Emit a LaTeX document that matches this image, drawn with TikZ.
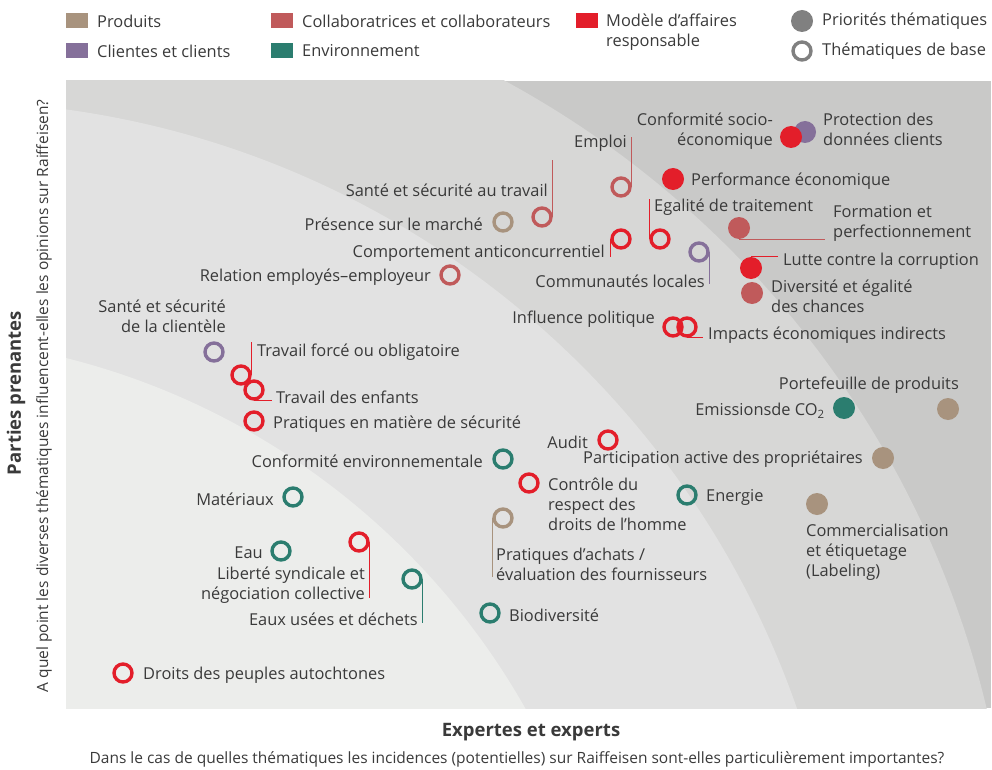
\documentclass[tikz,border=0pt]{standalone}
\usepackage{fontspec}
\setmainfont{Open Sans}
\usepackage{xcolor}
\usepackage{tikz}

\definecolor{prod}{HTML}{A8937E}
\definecolor{client}{HTML}{85709A}
\definecolor{collab}{HTML}{C05A5B}
\definecolor{envi}{HTML}{2B7D6F}
\definecolor{resp}{HTML}{E31E2A}
\definecolor{prio}{HTML}{808080}
\definecolor{txt}{HTML}{3A3A3A}
\definecolor{bandA}{HTML}{ECEDEB}
\definecolor{bandB}{HTML}{E2E2E2}
\definecolor{bandC}{HTML}{D7D7D6}
\definecolor{bandD}{HTML}{C9C9C8}

\begin{document}
\begin{tikzpicture}[x=1pt, y=-1pt,
                baseRing/.style={draw=#1, circle, line width=3.4pt, minimum size=18pt, inner sep=0pt},
                prioDot/.style={fill=#1, circle, minimum size=22pt, inner sep=0pt},
                legKey/.style={fill=#1, minimum width=22pt, minimum height=15pt, inner sep=0pt},
                lbl/.style={text=txt, font=\fontsize{16.4}{20}\selectfont, inner sep=0pt},
                sub/.style={text=txt, font=\fontsize{15.5}{18}\selectfont, inner sep=0pt},
                axis/.style={text=txt, font=\bfseries\fontsize{18.5}{20}\selectfont, inner sep=0pt},
                leader/.style={draw=#1, line width=1.2pt}
            ]
            \useasboundingbox (0,0) rectangle (992,770);

            % Background bands
            \begin{scope}
                \clip (66,81) rectangle (991,708);
                \fill[bandD] (66,81) rectangle (991,708);
                \fill[bandC] (43,934) circle[radius=970];
                \fill[bandB] (-58,1006) circle[radius=905];
                \fill[bandA] (-113,1069) circle[radius=733];
            \end{scope}

            % Legend
            \node[legKey=prod] (kProd) at (77,21) {};
            \node[lbl, anchor=west] (tProd) at (97,21) {Produits};
            \node[legKey=client] (kClient) at (77,51) {};
            \node[lbl, anchor=west] (tClient) at (97,51) {Clientes et clients};
            \node[legKey=collab] (kCollab) at (282,21) {};
            \node[lbl, anchor=west] (tCollab) at (302,21) {Collaboratrices et collaborateurs};
            \node[legKey=envi] (kEnvi) at (282,51) {};
            \node[lbl, anchor=west] (tEnvi) at (302,51) {Environnement};
            \node[legKey=resp] (kResp) at (587,21) {};
            \node[lbl, anchor=west, align=left] (tResp) at (606,32) {Modèle d’affaires\\responsable};
            \node[prioDot=prio] (kPrio) at (802,21) {};
            \node[lbl, anchor=west] (tPrio) at (822,21) {Priorités thématiques};
            \node[baseRing=prio] (kBase) at (802,51) {};
            \node[lbl, anchor=west] (tBase) at (822,51) {Thématiques de base};

            % Axis titles
            \node[axis, rotate=90] (yTitle) at (16,393) {Parties prenantes};
            \node[sub, rotate=90] (ySub) at (44,396) {A quel point les diverses thématiques influencent-elles les opinions sur Raiffeisen?};
            \node[axis] (xTitle) at (531,732) {Expertes et experts};
            \node[sub] (xSub) at (517,759) {Dans le cas de quelles thématiques les incidences (potentielles) sur Raiffeisen sont-elles particulièrement importantes?};

            % Topics, upper right
            \node[prioDot=client] (protec) at (805,132) {};
            \node[prioDot=resp] (confso) at (791,137) {};
            \node[lbl, anchor=east, align=right] (confsoT) at (773,131) {Conformité socio-\\économique};
            \node[lbl, anchor=west, align=left] (protecT) at (823,129) {Protection des\\données clients};
            \node[baseRing=collab] (emploi) at (621,187) {};
            \node[lbl, anchor=east] (emploiT) at (627,143) {Emploi};
            \node[prioDot=resp] (perf) at (673,179) {};
            \node[lbl, anchor=west] (perfT) at (691,181) {Performance économique};
            \node[baseRing=resp] (egal) at (660,239) {};
            \node[lbl, anchor=west] (egalT) at (654,207) {Egalité de traitement};
            \node[baseRing=resp] (compo) at (621,239) {};
            \node[lbl, anchor=east] (compoT) at (605,253) {Comportement anticoncurrentiel};
            \node[baseRing=client] (commu) at (699,252) {};
            \node[lbl, anchor=east] (commuT) at (705,281) {Communautés locales};
            \node[prioDot=collab] (forma) at (739,228) {};
            \node[lbl, anchor=west, align=left] (formaT) at (833,223) {Formation et\\perfectionnement};
            \node[prioDot=resp] (lutte) at (751,268) {};
            \node[lbl, anchor=west] (lutteT) at (783,261) {Lutte contre la corruption};
            \node[prioDot=collab] (diver) at (752,293) {};
            \node[lbl, anchor=west, align=left] (diverT) at (771,296) {Diversité et égalité\\des chances};
            \node[baseRing=resp] (influ) at (673,327) {};
            \node[baseRing=resp] (impac) at (687,327) {};
            \node[lbl, anchor=east] (influT) at (655,319) {Influence politique};
            \node[lbl, anchor=west] (impacT) at (708,335) {Impacts économiques indirects};

            % Topics, middle left
            \node[baseRing=collab] (sst) at (542,217) {};
            \node[lbl, anchor=east] (sstT) at (548,190) {Santé et sécurité au travail};
            \node[baseRing=prod] (pres) at (503,222) {};
            \node[lbl, anchor=east] (presT) at (483,224) {Présence sur le marché};
            \node[baseRing=collab] (relat) at (450,275) {};
            \node[lbl, anchor=east] (relatT) at (431,277) {Relation employés–employeur};
            \node[baseRing=client] (sscl) at (214,352) {};
            \node[lbl, anchor=east, align=right] (ssclT) at (226,316) {Santé et sécurité\\de la clientèle};
            \node[baseRing=resp] (force) at (241,375) {};
            \node[baseRing=resp] (enfan) at (254,390) {};
            \node[lbl, anchor=west] (forceT) at (257,352) {Travail forcé ou obligatoire};
            \node[lbl, anchor=west] (enfanT) at (276,397) {Travail des enfants};
            \node[baseRing=resp] (secur) at (254,421) {};
            \node[lbl, anchor=west] (securT) at (273,424) {Pratiques en matière de sécurité};

            % Topics, lower half
            \node[baseRing=envi] (cenv) at (503,459) {};
            \node[lbl, anchor=east] (cenvT) at (483,461) {Conformité environnementale};
            \node[baseRing=envi] (mater) at (293,497) {};
            \node[lbl, anchor=east] (materT) at (274,499) {Matériaux};
            \node[baseRing=envi] (eau) at (281,551) {};
            \node[lbl, anchor=east] (eauT) at (263,553) {Eau};
            \node[baseRing=resp] (liber) at (359,542) {};
            \node[lbl, anchor=east, align=right] (liberT) at (365,585) {Liberté syndicale et\\négociation collective};
            \node[baseRing=envi] (eaux) at (412,579) {};
            \node[lbl, anchor=east] (eauxT) at (418,619) {Eaux usées et déchets};
            \node[baseRing=envi] (biodi) at (490,613) {};
            \node[lbl, anchor=west] (biodiT) at (509,615) {Biodiversité};
            \node[baseRing=prod] (achat) at (503,518) {};
            \node[lbl, anchor=west, align=left] (achatT) at (496,564) {Pratiques d’achats /\\évaluation des fournisseurs};
            \node[baseRing=resp] (audit) at (608,440) {};
            \node[lbl, anchor=east] (auditT) at (588,442) {Audit};
            \node[baseRing=resp] (droho) at (529,483) {};
            \node[lbl, anchor=west, align=left] (drohoT) at (548,504) {Contrôle du\\respect des\\droits de l’homme};
            \node[baseRing=envi] (energ) at (687,495) {};
            \node[lbl, anchor=west] (energT) at (706,497) {Energie};
            \node[prioDot=prod] (porte) at (948,409) {};
            \node[lbl, anchor=east] (porteT) at (959,385) {Portefeuille de produits};
            \node[prioDot=envi] (emiss) at (844,408) {};
            \node[lbl, anchor=east] (emissT) at (825,411) {Emissionsde CO\textsubscript{2}};
            \node[prioDot=prod] (parti) at (883,458) {};
            \node[lbl, anchor=east] (partiT) at (863,459) {Participation active des propriétaires};
            \node[prioDot=prod] (comme) at (817,504) {};
            \node[lbl, anchor=west, align=left] (commeT) at (806,552) {Commercialisation\\et étiquetage\\(Labeling)};
            \node[baseRing=resp] (droit) at (123,673) {};
            \node[lbl, anchor=west] (droitT) at (143,675) {Droits des peuples autochtones};

            % Leader ends
            \coordinate (emploiE) at (631,137);
            \coordinate (sstE) at (552,160);
            \coordinate (egalE) at (649,199);
            \coordinate (compoE) at (609,257);
            \coordinate (commuE) at (709,284);
            \coordinate (formaE) at (825,238);
            \coordinate (lutteE) at (778,258);
            \coordinate (impacE) at (703,337);
            \coordinate (forceE) at (251,342);
            \coordinate (enfanE) at (272,399);
            \coordinate (liberE) at (369,598);
            \coordinate (eauxE) at (421,623);
            \coordinate (achatE) at (492,577);

            % Leaders
            \draw[leader=collab] (emploi.east) -- (emploi.east |- emploiE);
            \draw[leader=collab] (sst.east) -- (sst.east |- sstE);
            \draw[leader=resp] (egal.west) -- (egal.west |- egalE);
            \draw[leader=resp] (compo.west) -- (compo.west |- compoE);
            \draw[leader=client] (commu.east) -- (commu.east |- commuE);
            \draw[leader=collab] (forma.south) -- (forma.south -| formaE);
            \draw[leader=resp] (lutte.north) -- (lutte.north -| lutteE);
            \draw[leader=resp] (impac.south) -- (impac.south -| impacE);
            \draw[leader=resp] (force.east) -- (force.east |- forceE);
            \draw[leader=resp] (enfan.south) -- (enfan.south -| enfanE);
            \draw[leader=resp] (liber.east) -- (liber.east |- liberE);
            \draw[leader=envi] (eaux.east) -- (eaux.east |- eauxE);
            \draw[leader=prod] (achat.west) -- (achat.west |- achatE);

\end{tikzpicture}
\end{document}
